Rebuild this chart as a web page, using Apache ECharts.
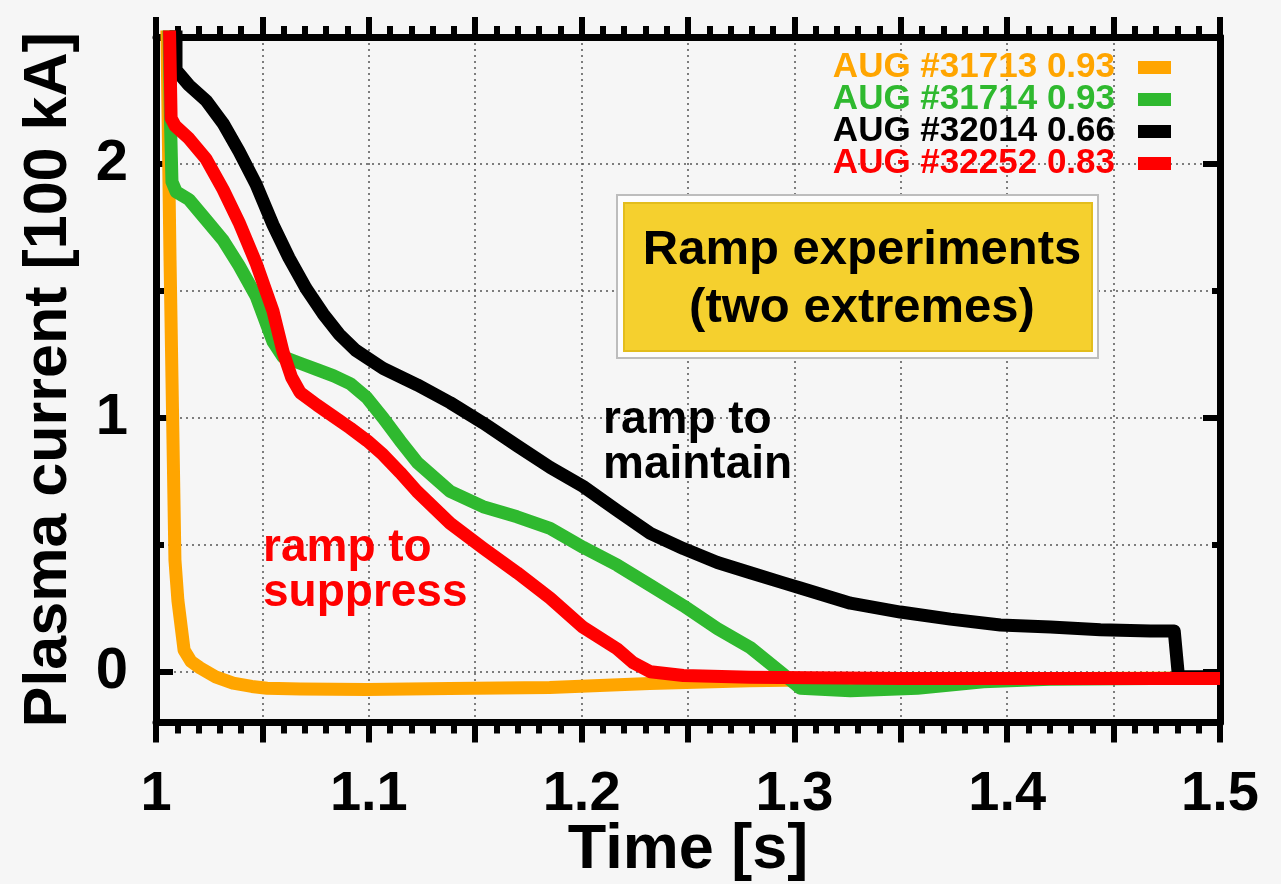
<!DOCTYPE html>
<html>
<head>
<meta charset="utf-8">
<script src="https://cdn.jsdelivr.net/npm/echarts@6/dist/echarts.min.js"></script>
<style>
  html, body { margin: 0; padding: 0; background: #f6f6f6; }
  #chart { width: 1281px; height: 884px; }
</style>
</head>
<body>
<div id="chart"></div>
<script>
// Shot labels (shot number and ratio)
const shotNames = ['AUG #31713 0.93', 'AUG #31714 0.93', 'AUG #32014 0.66', 'AUG #32252 0.83'];

// Plasma current traces, [time (s), current (100 kA)]
const shot31713 = [
  [1.0050, 2.6], [1.0066, 1.62], [1.0089, 0.44], [1.0103, 0.28], [1.0132, 0.085],
  [1.0165, 0.04], [1.0207, 0.015], [1.028, -0.02], [1.0362, -0.045], [1.045, -0.058],
  [1.0522, -0.065], [1.068, -0.068], [1.099, -0.07], [1.138, -0.066], [1.185, -0.062],
  [1.232, -0.046], [1.279, -0.036], [1.33, -0.03], [1.40, -0.028], [1.50, -0.025]
];
const shot31714 = [
  [1.0060, 2.6], [1.0068, 2.17], [1.0075, 1.93], [1.0095, 1.89], [1.0155, 1.86],
  [1.0235, 1.78], [1.0315, 1.70], [1.039, 1.60], [1.047, 1.48], [1.055, 1.30],
  [1.0597, 1.24], [1.0677, 1.215], [1.0757, 1.19], [1.0835, 1.165], [1.0912, 1.135],
  [1.099, 1.08], [1.1067, 1.00], [1.1147, 0.91], [1.1227, 0.825], [1.1382, 0.71],
  [1.1537, 0.65], [1.1697, 0.61], [1.1852, 0.565], [1.2007, 0.49], [1.2167, 0.42],
  [1.2323, 0.34], [1.2478, 0.26], [1.2638, 0.17], [1.2793, 0.095], [1.2948, -0.01],
  [1.3028, -0.065], [1.3263, -0.075], [1.3578, -0.065], [1.3888, -0.04], [1.42, -0.03],
  [1.5, -0.025]
];
const shot32014 = [
  [1.0094, 2.6], [1.0094, 2.37], [1.0155, 2.31], [1.0235, 2.25], [1.0315, 2.16],
  [1.039, 2.05], [1.047, 1.92], [1.055, 1.76], [1.0625, 1.63], [1.0705, 1.51],
  [1.0785, 1.41], [1.086, 1.33], [1.094, 1.265], [1.1067, 1.195], [1.1227, 1.13],
  [1.1382, 1.06], [1.1537, 0.98], [1.1697, 0.89], [1.1852, 0.805], [1.2007, 0.73],
  [1.2167, 0.635], [1.2323, 0.545], [1.2478, 0.485], [1.2638, 0.43], [1.2793, 0.39],
  [1.2948, 0.35], [1.3028, 0.33], [1.3263, 0.27], [1.3498, 0.235], [1.3733, 0.207],
  [1.3968, 0.184], [1.4203, 0.176], [1.4438, 0.165], [1.4673, 0.16], [1.4785, 0.16],
  [1.4805, -0.02], [1.5, -0.02]
];
const shot32252 = [
  [1.0062, 2.6], [1.0071, 2.18], [1.0090, 2.15], [1.0155, 2.10], [1.0235, 2.02],
  [1.0315, 1.90], [1.039, 1.77], [1.047, 1.61], [1.055, 1.42], [1.0597, 1.26],
  [1.0637, 1.16], [1.0677, 1.10], [1.0757, 1.05], [1.0835, 1.005], [1.0912, 0.96],
  [1.0992, 0.91], [1.1067, 0.855], [1.1147, 0.785], [1.1227, 0.71], [1.1382, 0.585],
  [1.1537, 0.487], [1.1697, 0.39], [1.1852, 0.29], [1.2007, 0.175], [1.2167, 0.09],
  [1.2243, 0.035], [1.2323, 0.0], [1.2478, -0.015], [1.2793, -0.022], [1.35, -0.027],
  [1.5, -0.027]
];

// Axis tick values
const xLabelValues = [1, 1.1, 1.2, 1.3, 1.4, 1.5];
const yLabelValues = [0, 1, 2];
const yHalfValues = [0.5, 1.5];

const traces = [shot31713, shot31714, shot32014, shot32252];
const lineColors = ['#ffa500', '#2fb92f', '#000000', '#ff0000'];
const FONT = '"Liberation Sans", Arial, Helvetica, sans-serif';

const chart = echarts.init(document.getElementById('chart'), null, { renderer: 'canvas' });

const frame = { color: '#000', width: 7 };
const tickStyle = { color: '#000', width: 6 };
const gridDots = { color: '#555', width: 1.5, type: [2, 4] };

function xAxisDef(pos, withLabels) {
  return {
    type: 'value', min: 1, max: 1.5, interval: 0.05, position: pos,
    axisLine: { show: true, lineStyle: frame, onZero: false },
    axisTick: { show: true, inside: false, length: 20, lineStyle: tickStyle },
    minorTick: { show: true, splitNumber: 5, length: 11, lineStyle: tickStyle },
    axisLabel: withLabels ? {
      customValues: xLabelValues, margin: 44, fontSize: 56, fontWeight: 'bold',
      color: '#000', fontFamily: FONT
    } : { show: false },
    splitLine: withLabels ? { show: true, lineStyle: gridDots } : { show: false },
    name: withLabels ? 'Time [s]' : '',
    nameLocation: 'middle', nameGap: 97, nameMoveOverlap: false,
    nameTextStyle: { fontSize: 63, fontWeight: 'bold', color: '#000', fontFamily: FONT }
  };
}

function yAxisDef(pos, values, len, withLabels) {
  return {
    type: 'value', min: -0.2, max: 2.5, position: pos,
    axisLine: { show: true, lineStyle: frame, onZero: false },
    axisTick: { show: true, inside: true, length: len, customValues: values, lineStyle: tickStyle },
    axisLabel: withLabels ? {
      customValues: values, margin: 28, fontSize: 58, fontWeight: 'bold',
      color: '#000', fontFamily: FONT
    } : { show: false },
    splitLine: pos === 'left' ? { show: true, lineStyle: gridDots } : { show: false },
    name: withLabels ? 'Plasma current [100 kA]' : '',
    nameLocation: 'middle', nameGap: 76, nameMoveOverlap: false,
    nameTextStyle: { fontSize: 61, fontWeight: 'bold', color: '#000', fontFamily: FONT }
  };
}

chart.setOption({
  animation: false,
  backgroundColor: '#f6f6f6',
  grid: {
    left: 156, right: 61, top: 37, bottom: 161.5,
    containLabel: false, outerBoundsMode: 'none'
  },
  xAxis: [xAxisDef('bottom', true), xAxisDef('top', false)],
  yAxis: [
    yAxisDef('left', yLabelValues, 17, true),
    yAxisDef('left', yHalfValues, 8, false),
    yAxisDef('right', yLabelValues, 17, false),
    yAxisDef('right', yHalfValues, 8, false)
  ],
  legend: {
    orient: 'vertical', right: 110, top: 50, align: 'right', padding: 0,
    itemGap: -3, itemWidth: 33, itemHeight: 13, icon: 'rect', selectedMode: false,
    textStyle: { fontSize: 35, fontWeight: 'bold', fontFamily: FONT, lineHeight: 30, padding: [0, 18, 0, 0] },
    data: shotNames.map((n, i) => ({ name: n, textStyle: { color: lineColors[i] } }))
  },
  series: traces.map((d, i) => ({
    type: 'line', name: shotNames[i], data: d,
    xAxisIndex: 0, yAxisIndex: 0,
    symbol: 'none', showSymbol: false, clip: true,
    color: lineColors[i],
    lineStyle: { color: lineColors[i], width: 13, join: 'round' },
    itemStyle: { color: lineColors[i] },
    z: 3 + i
  })),
  graphic: [
    {
      type: 'rect', z: 20,
      shape: { x: 617, y: 195, width: 481, height: 163 },
      style: { fill: '#fdfdfd', stroke: '#bdbdbd', lineWidth: 2 }
    },
    {
      type: 'rect', z: 21,
      shape: { x: 624, y: 203, width: 468, height: 148 },
      style: { fill: '#f5d02e', stroke: '#e3bd1d', lineWidth: 2 }
    },
    {
      type: 'text', z: 22, x: 862, y: 279,
      style: {
        text: 'Ramp experiments\n(two extremes)', align: 'center', verticalAlign: 'middle',
        fontSize: 49, fontWeight: 'bold', fontFamily: FONT, lineHeight: 58, fill: '#000'
      }
    },
    {
      type: 'text', z: 22, x: 603, y: 398,
      style: {
        text: 'ramp to\nmaintain', align: 'left', verticalAlign: 'top',
        fontSize: 46, fontWeight: 'bold', fontFamily: FONT, lineHeight: 45, fill: '#000'
      }
    },
    {
      type: 'text', z: 22, x: 263, y: 526,
      style: {
        text: 'ramp to\nsuppress', align: 'left', verticalAlign: 'top',
        fontSize: 46, fontWeight: 'bold', fontFamily: FONT, lineHeight: 45, fill: '#ff0000'
      }
    }
  ]
});
</script>
</body>
</html>
